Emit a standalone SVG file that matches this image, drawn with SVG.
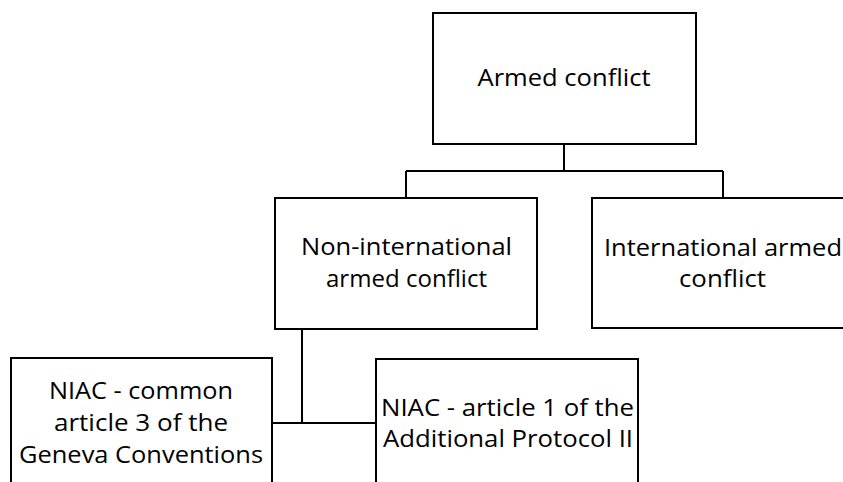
<svg xmlns="http://www.w3.org/2000/svg" width="843" height="482" viewBox="0 0 843 482">
<style>
.box{fill:#fff;stroke:#000;stroke-width:2}
.lbl{font-family:"Open Sans","Liberation Sans",sans-serif;font-size:24px;fill:#000;text-anchor:middle}
.conn{fill:none;stroke:#000;stroke-width:2}
</style>
<rect width="843" height="482" fill="#fff"/>
<g id="connectors">
<path class="conn" d="M564 144V171M406 171H723M406 171V198M723 171V198M302 329V423M272 423H376"/>
</g>
<g id="armed-conflict">
<rect class="box" x="433" y="13" width="263" height="131"/>
<text class="lbl" x="564" y="86" textLength="173" lengthAdjust="spacingAndGlyphs">Armed conflict</text>
</g>
<g id="niac">
<rect class="box" x="275" y="198" width="262" height="131"/>
<text class="lbl" x="406.5" y="255" textLength="211" lengthAdjust="spacingAndGlyphs">Non-international</text>
<text class="lbl" x="406.5" y="287" textLength="161" lengthAdjust="spacingAndGlyphs">armed conflict</text>
</g>
<g id="iac">
<rect class="box" x="592" y="198" width="262" height="130"/>
<text class="lbl" x="723" y="256" textLength="238" lengthAdjust="spacingAndGlyphs">International armed</text>
<text class="lbl" x="722.5" y="287" textLength="87" lengthAdjust="spacingAndGlyphs">conflict</text>
</g>
<g id="niac-common-3">
<rect class="box" x="11" y="358" width="261" height="140"/>
<text class="lbl" x="141" y="399" textLength="184" lengthAdjust="spacingAndGlyphs">NIAC - common</text>
<text class="lbl" x="141" y="431" textLength="174" lengthAdjust="spacingAndGlyphs">article 3 of the</text>
<text class="lbl" x="141" y="463" textLength="244" lengthAdjust="spacingAndGlyphs">Geneva Conventions</text>
</g>
<g id="niac-ap2">
<rect class="box" x="376" y="359" width="262" height="140"/>
<text class="lbl" x="507.5" y="416" textLength="253" lengthAdjust="spacingAndGlyphs">NIAC - article 1 of the</text>
<text class="lbl" x="508" y="447" textLength="250" lengthAdjust="spacingAndGlyphs">Additional Protocol II</text>
</g>
</svg>
